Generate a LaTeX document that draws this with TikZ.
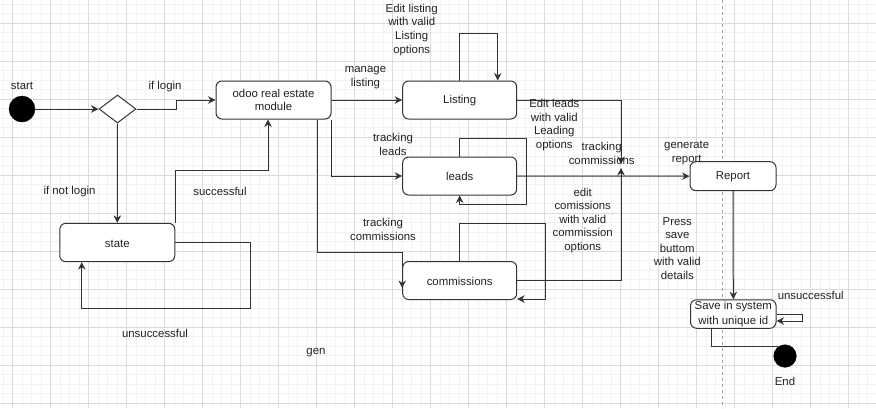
\documentclass[tikz,border=0pt]{standalone}
\usepackage{fontspec}
\setmainfont{Liberation Sans}
\usetikzlibrary{arrows.meta,shapes.geometric,calc}
\definecolor{ink}{HTML}{222222}
\definecolor{edge}{HTML}{333333}
\definecolor{gridmajor}{HTML}{DCDCDC}
\definecolor{gridminor}{HTML}{F2F2F2}
\begin{document}
\begin{tikzpicture}[x=1pt,y=-1pt,
  every node/.style={font=\fontsize{11.4}{13.6}\selectfont, text=ink, inner sep=0pt},
  statebox/.style={draw=edge, line width=1pt, rounded corners=6pt, fill=white,
    minimum width=114pt, minimum height=38pt, align=center},
  dot/.style={circle, fill=black, draw=black},
  flow/.style={draw=edge, line width=1pt, -{Stealth[length=7.5pt,width=7.5pt]}},
  plain/.style={draw=edge, line width=1pt},
  lbl/.style={align=center, yshift=-1.2pt},
  minorline/.style={draw=gridminor, line width=0.8pt},
  majorline/.style={draw=gridmajor, line width=0.8pt}
]
% canvas and grid
\fill[white] (0,0) rectangle (876,408);
\useasboundingbox (0,0) rectangle (876,408);
\foreach \i in {0,...,92} \draw[minorline] ({3+9.5*\i},0) -- ({3+9.5*\i},408);
\foreach \i in {0,...,43} \draw[minorline] (0,{4+9.5*\i}) -- (876,{4+9.5*\i});
\foreach \i in {0,...,22} \draw[majorline] ({12.5+38*\i},0) -- ({12.5+38*\i},408);
\foreach \i in {0,...,10} \draw[majorline] (0,{23+38*\i}) -- (876,{23+38*\i});
\draw[gray!70, line width=0.8pt, dash pattern=on 3pt off 3pt] (722.3,0) -- (722.3,408);

% states
\node[dot, minimum size=26pt] (start) at (22,109) {};
\node[diamond, draw=edge, line width=1pt, fill=white, aspect=1.32,
      minimum width=37pt, minimum height=28pt] (dec) at (117.5,109) {};
\node[statebox, minimum width=115pt] (odoo) at (273.5,100) {odoo real estate\\module};
\node[statebox, minimum width=115pt, minimum height=38.3pt, text height=9.6pt] (state) at (117.3,242.5) {state};
\node[statebox, text height=9.6pt] (listing) at (459.7,100) {Listing};
\node[statebox, text height=9.6pt] (leads) at (459.7,176) {leads};
\node[statebox, text height=9.6pt] (comm) at (459.7,280.5) {commissions};
\node[statebox, minimum width=86pt, minimum height=29pt, text height=9.6pt] (report) at (733,176.2) {Report};
\node[statebox, minimum width=85.5pt, minimum height=28.5pt,
      font=\fontsize{11.4}{15}\selectfont] (save) at (733.3,314) {Save in system\\with unique id};
\node[dot, minimum size=22.6pt] (end) at (785,356) {};

\coordinate (jtop) at (621,164);
\coordinate (jbot) at (621,168);

% transitions
\draw[flow] (start) -- (dec.west);
\draw[flow] (dec.east) -- ++(40,0) |- (odoo.west);
\draw[flow] (dec.south) -- (state.north);
\draw[flow] (state.north east) -- ++(0,-52.3) -| ($(odoo.south)+(-5.5,0)$);
\draw[flow] (state.east) -| ($(state.east)+(75.6,66.2)$) -| ($(state.south)+(-35.6,0)$);
\draw[flow] (odoo.east) -- (listing.west);
\draw[flow] (odoo.south east) |- (leads.west);
\draw[flow] ($(odoo.south east)+(-14,0)$) -- ++(0,133) -| ($(comm.west)+(0,7.5)$);
\draw[flow] (listing.north) -- ++(0,-47.4) -| ($(listing.north)+(38,0)$);
\draw[flow] (leads.north) -- ++(0,-18.5) -| ($(leads.south east)+(9.3,9.3)$) -| (leads.south);
\draw[flow] (comm.north) -- ++(0,-37.7) -| ($(comm.south east)+(28.3,-1)$) -- ($(comm.south east)+(0,-1)$);
\draw[flow] (listing.east) -| (jtop);
\draw[flow] (comm.east) -| (jbot);
\draw[flow] (leads.east) -- (report.west);
\draw[flow] (report.south) -- (save.north);
\draw[flow] (save.east) -- ++(26,0) |- ($(save.east)+(0,7)$);
\draw[plain] ($(save.south west)+(21,0)$) |- (end.127);

% labels
\node[lbl] (l-start) at (22,85) {start};
\node[lbl] (l-login) at (165,85) {if login};
\node[lbl] (l-notlogin) at (69.5,190) {if not login};
\node[lbl] (l-succ) at (220,190) {successful};
\node[lbl] (l-unsucc) at (155,332.3) {unsuccessful};
\node[lbl] (l-gen) at (316,351.7) {gen};
\node[lbl] (l-manage) at (365.5,76.5) {manage\\listing};
\node[lbl] (l-editlist) at (411.7,28.5) {Edit listing\\with valid\\Listing\\options};
\node[lbl] (l-trleads) at (393,143.5) {tracking\\leads};
\node[lbl] (l-trcomm) at (383,228.5) {tracking\\commissions};
\node[lbl] (l-editleads) at (554.3,124) {Edit leads\\with valid\\Leading\\options};
\node[lbl] (l-trcomm2) at (601.7,152) {tracking\\commissions};
\node[lbl] (l-genrep) at (686.7,152) {generate\\report};
\node[lbl] (l-editcomm) at (582.7,219.2) {edit\\comissions\\with valid\\commission\\options};
\node[lbl] (l-press) at (677.3,247.2) {Press\\save\\buttom\\with valid\\details};
\node[lbl] (l-unsucc2) at (810.7,294) {unsuccessful};
\node[lbl] (l-end) at (785,380) {End};
\end{tikzpicture}
\end{document}
